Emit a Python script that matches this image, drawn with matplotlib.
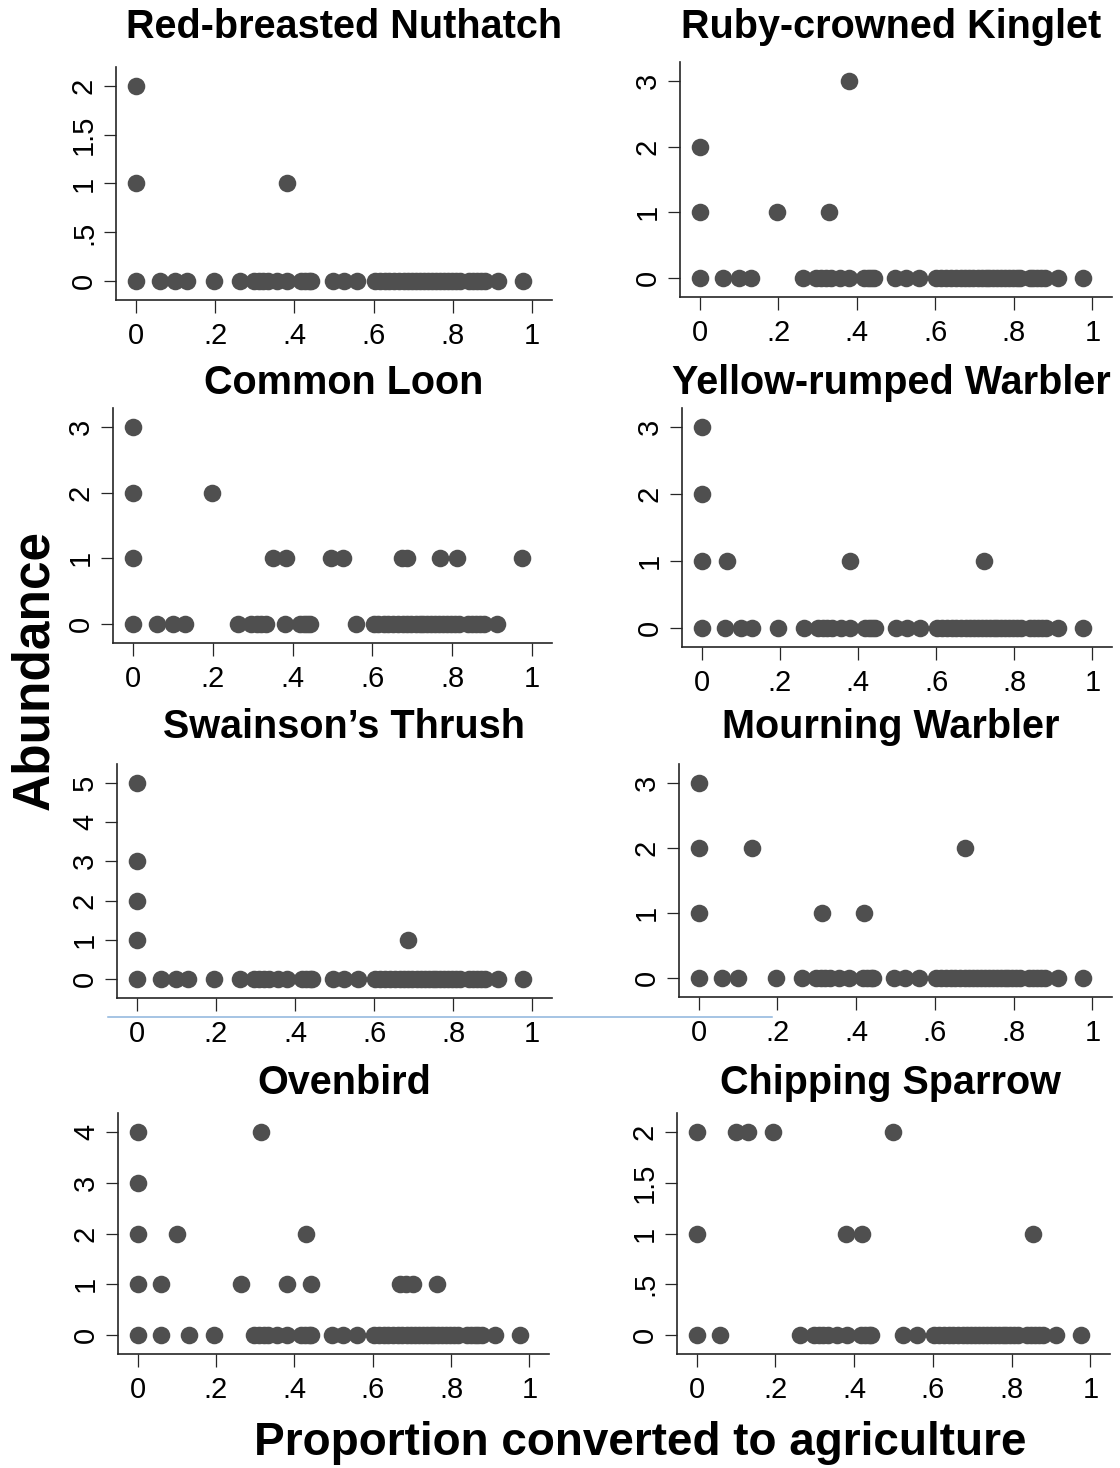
import matplotlib

matplotlib.use("Agg")
import matplotlib.pyplot as plt
from matplotlib.lines import Line2D


plt.rcParams["font.family"] = ["Liberation Sans", "DejaVu Sans"]

# proportion converted to agriculture at each survey site
SITE_X = [
    0.0, 0.06, 0.10, 0.13, 0.196, 0.262, 0.297, 0.31, 0.322, 0.334, 0.357, 0.381,
    0.418, 0.428, 0.437, 0.443, 0.497, 0.525, 0.559, 0.603, 0.615, 0.628, 0.64,
    0.652, 0.665, 0.676, 0.687, 0.697, 0.708, 0.718, 0.728, 0.738, 0.748, 0.757,
    0.767, 0.777, 0.787, 0.797, 0.807, 0.817, 0.84, 0.85, 0.86, 0.87, 0.88,
    0.913, 0.976,
]

SPECIES = [
    "Red-breasted Nuthatch", "Ruby-crowned Kinglet",
    "Common Loon", "Yellow-rumped Warbler",
    "Swainson\u2019s Thrush", "Mourning Warbler",
    "Ovenbird", "Chipping Sparrow",
]

# sites with non-zero abundance (x, count)
NUTHATCH_X = [0.0, 0.0, 0.381]
NUTHATCH_Y = [2, 1, 1]
KINGLET_X = [0.0, 0.0, 0.198, 0.329, 0.381]
KINGLET_Y = [2, 1, 1, 1, 3]
LOON_X = [0.0, 0.0, 0.0, 0.197, 0.35, 0.384, 0.495, 0.526, 0.673, 0.686, 0.769, 0.813, 0.975]
LOON_Y = [3, 2, 1, 2, 1, 1, 1, 1, 1, 1, 1, 1, 1]
YRWA_X = [0.0, 0.0, 0.0, 0.065, 0.381, 0.722]
YRWA_Y = [3, 2, 1, 1, 1, 1]
THRUSH_X = [0.0, 0.0, 0.0, 0.0, 0.687]
THRUSH_Y = [5, 3, 2, 1, 1]
MOWA_X = [0.0, 0.0, 0.0, 0.135, 0.314, 0.421, 0.676]
MOWA_Y = [3, 2, 1, 2, 1, 1, 2]
OVEN_X = [0.0, 0.0, 0.0, 0.0, 0.061, 0.10, 0.263, 0.314, 0.381, 0.43, 0.442, 0.669, 0.686, 0.703, 0.763]
OVEN_Y = [4, 3, 2, 1, 1, 2, 1, 4, 1, 2, 1, 1, 1, 1, 1]
CHSP_X = [0.0, 0.0, 0.0995, 0.1315, 0.195, 0.379, 0.42, 0.498, 0.854]
CHSP_Y = [2, 1, 2, 2, 2, 1, 1, 2, 1]

# sites that are not in the zero row for a species
ABSENT = {
    "Ruby-crowned Kinglet": [0.196],
    "Common Loon": [0.196, 0.357, 0.497, 0.525, 0.976],
    "Mourning Warbler": [0.13],
    "Ovenbird": [0.10, 0.262],
    "Chipping Sparrow": [0.10, 0.13, 0.196, 0.497],
}

HITS = {
    "Red-breasted Nuthatch": (NUTHATCH_X, NUTHATCH_Y),
    "Ruby-crowned Kinglet": (KINGLET_X, KINGLET_Y),
    "Common Loon": (LOON_X, LOON_Y),
    "Yellow-rumped Warbler": (YRWA_X, YRWA_Y),
    "Swainson\u2019s Thrush": (THRUSH_X, THRUSH_Y),
    "Mourning Warbler": (MOWA_X, MOWA_Y),
    "Ovenbird": (OVEN_X, OVEN_Y),
    "Chipping Sparrow": (CHSP_X, CHSP_Y),
}

X_TICKS = [0, 0.2, 0.4, 0.6, 0.8, 1]
X_LABELS = ["0", ".2", ".4", ".6", ".8", "1"]
Y_TICKS = {
    "Red-breasted Nuthatch": ([0, 0.5, 1, 1.5, 2], ["0", ".5", "1", "1.5", "2"]),
    "Ruby-crowned Kinglet": ([0, 1, 2, 3], ["0", "1", "2", "3"]),
    "Common Loon": ([0, 1, 2, 3], ["0", "1", "2", "3"]),
    "Yellow-rumped Warbler": ([0, 1, 2, 3], ["0", "1", "2", "3"]),
    "Swainson\u2019s Thrush": ([0, 1, 2, 3, 4, 5], ["0", "1", "2", "3", "4", "5"]),
    "Mourning Warbler": ([0, 1, 2, 3], ["0", "1", "2", "3"]),
    "Ovenbird": ([0, 1, 2, 3, 4], ["0", "1", "2", "3", "4"]),
    "Chipping Sparrow": ([0, 0.5, 1, 1.5, 2], ["0", ".5", "1", "1.5", "2"]),
}

W, H = 1120, 1468
# axes boxes in pixels: left, top, right, bottom
BOXES = [
    (116, 67, 552, 300), (680, 62, 1112, 297),
    (113, 408, 552, 643), (682, 408, 1112, 647),
    (117, 764, 552, 998), (679, 764, 1112, 997),
    (118, 1113, 549, 1354), (677, 1113, 1110, 1354),
]
TITLE_Y = [27, 27, 383, 383, 727, 727, 1083, 1083]
MARK = "#4f4f4f"
AXC = "#262626"

fig = plt.figure(figsize=(W / 100, H / 100), dpi=100)

for i, name in enumerate(SPECIES):
    l, t, r, b = BOXES[i]
    ax = fig.add_axes([l / W, 1 - b / H, (r - l) / W, (b - t) / H])
    absent = ABSENT.get(name, [])
    zx = [x for x in SITE_X if x not in absent]
    hx, hy = HITS[name]
    ax.scatter(zx, [0] * len(zx), s=160, color=MARK, linewidths=0, zorder=3)
    ax.scatter(hx, hy, s=160, color=MARK, linewidths=0, zorder=3)

    yt, yl = Y_TICKS[name]
    top = yt[-1]
    ax.set_xlim(-0.05, 1.05)
    ax.set_ylim(-0.095 * top, 1.095 * top)
    ax.set_xticks(X_TICKS)
    ax.set_xticklabels(X_LABELS)
    ax.set_yticks(yt)
    ax.set_yticklabels(yl, rotation=90, va="center")
    for side in ["top", "right"]:
        ax.spines[side].set_visible(False)
    for side in ["left", "bottom"]:
        ax.spines[side].set_color(AXC)
        ax.spines[side].set_linewidth(1.2)
    ax.tick_params(axis="both", length=9, width=0.9, color=AXC, labelsize=21, labelcolor="black")
    ax.tick_params(axis="x", pad=7)
    ax.tick_params(axis="y", pad=4)

    cx = 344 if i % 2 == 0 else 891
    fig.text(cx / W, 1 - TITLE_Y[i] / H, name, ha="center", va="center",
             fontsize=28.5, fontweight="bold")

fig.text(35 / W, 1 - 670 / H, "Abundance", rotation=90, ha="center", va="center",
         fontsize=37, fontweight="bold")
fig.text(640 / W, 1 - 1443 / H, "Proportion converted to agriculture", ha="center",
         va="center", fontsize=33, fontweight="bold")

# stray thin blue rule that crosses the third row in the original
fig.add_artist(Line2D([108 / W, 772 / W], [1 - 1017 / H, 1 - 1017 / H],
                      color="#8db4dc", linewidth=1.1))

fig.savefig("out.png", dpi=100)
